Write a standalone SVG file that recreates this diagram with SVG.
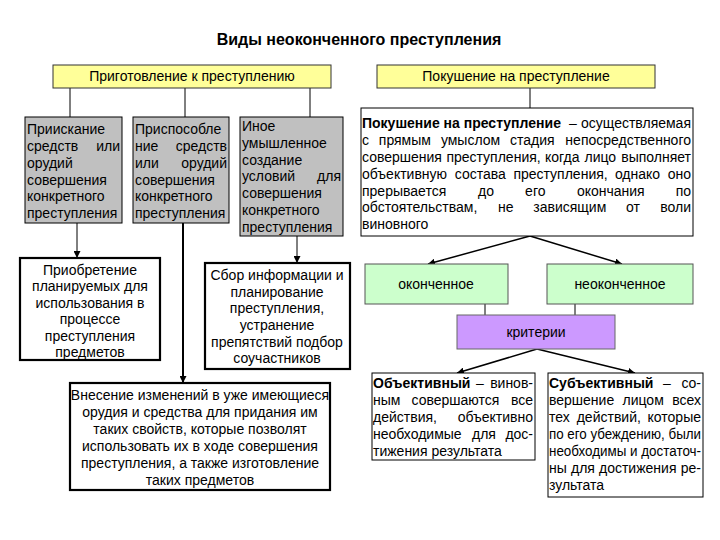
<svg xmlns="http://www.w3.org/2000/svg" width="720" height="540" viewBox="0 0 720 540">
<style>
text{font-family:"Liberation Sans",Arial,sans-serif;font-size:14px;fill:#000}
.t{font-size:16px;font-weight:bold}
.b{font-weight:bold}
.c{text-anchor:middle}
.e{text-anchor:end}
.thin{stroke:#000;stroke-width:1;fill:none}
.arr{stroke:#000;stroke-width:1.5;fill:none}
.ybox{fill:#ffff99;stroke:#333;stroke-width:1}
.gbox{fill:#c0c0c0;stroke:#000;stroke-width:1}
.wbox{fill:#fff;stroke:#000;stroke-width:1}
.tbox{fill:#fff;stroke:#000;stroke-width:2.2}
.grn{fill:#ccffcc;stroke:#555;stroke-width:1}
.prp{fill:#cc99ff;stroke:#666;stroke-width:1}
</style>
<defs>
<marker id="ah" viewBox="0 0 10 10" refX="10" refY="5" markerWidth="7" markerHeight="7" markerUnits="userSpaceOnUse" orient="auto">
<path d="M0,0 L10,5 L0,10 z" fill="#000"/>
</marker>
</defs>
<rect width="720" height="540" fill="#fff"/>
<text class="t c" x="359" y="45">Виды неоконченного преступления</text>

<g id="connectors">
<line class="thin" x1="70" y1="88" x2="70" y2="117"/>
<line class="thin" x1="185" y1="88" x2="185" y2="117"/>
<line class="thin" x1="310" y1="88" x2="310" y2="117"/>
<line class="thin" x1="530" y1="88" x2="530" y2="108"/>
<line class="thin" x1="77" y1="223" x2="77" y2="258" marker-end="url(#ah)"/>
<line x1="183" y1="223" x2="183" y2="383" stroke="#000" stroke-width="2" marker-end="url(#ah)"/>
<line class="thin" x1="297" y1="236" x2="297" y2="263" marker-end="url(#ah)"/>
<line class="arr" x1="530" y1="236" x2="428" y2="264" marker-end="url(#ah)"/>
<line class="arr" x1="530" y1="236" x2="622" y2="264" marker-end="url(#ah)"/>
<line class="thin" x1="485" y1="304" x2="485" y2="315"/>
<line class="thin" x1="575" y1="304" x2="575" y2="315"/>
<line class="arr" x1="537" y1="349" x2="457" y2="373" marker-end="url(#ah)"/>
<line class="arr" x1="537" y1="349" x2="635" y2="373" marker-end="url(#ah)"/>
</g>

<g id="prep">
<rect class="ybox" x="53" y="65" width="278" height="23"/>
<text class="c" x="192" y="81">Приготовление к преступлению</text>
</g>
<g id="attempt">
<rect class="ybox" x="377" y="65" width="278" height="23"/>
<text class="c" x="516" y="81">Покушение на преступление</text>
</g>

<g id="boxA">
<rect class="gbox" x="25" y="117" width="97" height="106"/>
<text x="27" y="134">Приискание</text>
<text x="27" y="151">средств</text><text class="e" x="120" y="151">или</text>
<text x="27" y="168">орудий</text>
<text x="27" y="185">совершения</text>
<text x="27" y="201">конкретного</text>
<text x="27" y="218">преступления</text>
</g>
<g id="boxB">
<rect class="gbox" x="133" y="117" width="96" height="106"/>
<text x="135" y="134">Приспособле</text>
<text x="135" y="151">ние</text><text class="e" x="227" y="151">средств</text>
<text x="135" y="168">или</text><text class="e" x="227" y="168">орудий</text>
<text x="135" y="185">совершения</text>
<text x="135" y="201">конкретного</text>
<text x="135" y="218">преступления</text>
</g>
<g id="boxC">
<rect class="gbox" x="240" y="117" width="103" height="119"/>
<text x="242" y="131">Иное</text>
<text x="242" y="148">умышленное</text>
<text x="242" y="165">создание</text>
<text x="242" y="181">условий</text><text class="e" x="341" y="181">для</text>
<text x="242" y="198">совершения</text>
<text x="242" y="215">конкретного</text>
<text x="242" y="232">преступления</text>
</g>

<g id="acquire">
<rect class="tbox" x="20" y="258" width="140" height="102"/>
<text class="c" x="90" y="275">Приобретение</text>
<text class="c" x="90" y="291">планируемых для</text>
<text class="c" x="90" y="308">использования в</text>
<text class="c" x="90" y="324">процессе</text>
<text class="c" x="90" y="341">преступления</text>
<text class="c" x="90" y="357">предметов</text>
</g>
<g id="collect">
<rect class="tbox" x="205" y="263" width="145" height="106"/>
<text class="c" x="277" y="280">Сбор информации и</text>
<text class="c" x="277" y="297">планирование</text>
<text class="c" x="277" y="313">преступления,</text>
<text class="c" x="277" y="330">устранение</text>
<text class="c" x="277" y="347">препятствий подбор</text>
<text class="c" x="277" y="363">соучастников</text>
</g>
<g id="modify">
<rect class="tbox" x="70" y="383" width="260" height="107"/>
<text class="c" x="200" y="400">Внесение изменений в уже имеющиеся</text>
<text class="c" x="200" y="417">орудия и средства для придания им</text>
<text class="c" x="200" y="434">таких свойств, которые позволят</text>
<text class="c" x="200" y="451">использовать их в ходе совершения</text>
<text class="c" x="200" y="468">преступления, а также изготовление</text>
<text class="c" x="200" y="485">таких предметов</text>
</g>

<g id="definition">
<rect class="wbox" x="361" y="108" width="332" height="128"/>
<text y="128"><tspan class="b" x="362">Покушение на преступление</tspan><tspan x="569">–</tspan></text><text class="e" x="691" y="128">осуществляемая</text>
<text y="145"><tspan x="362">с</tspan><tspan x="378.8">прямым</tspan><tspan x="440.9">умыслом</tspan><tspan x="510">стадия</tspan></text><text class="e" x="691" y="145">непосредственного</text>
<text y="162"><tspan x="362">совершения</tspan><tspan x="446.4">преступления,</tspan><tspan x="545">когда</tspan><tspan x="584.5">лицо</tspan></text><text class="e" x="691" y="162">выполняет</text>
<text y="179"><tspan x="362">объективную</tspan><tspan x="454.8">состава</tspan><tspan x="513.4">преступления,</tspan><tspan x="614.9">однако</tspan></text><text class="e" x="691" y="179">оно</text>
<text y="196"><tspan x="362">прерывается</tspan><tspan x="478.1">до</tspan><tspan x="525.1">его</tspan><tspan x="576.9">окончания</tspan></text><text class="e" x="691" y="196">по</text>
<text y="212"><tspan x="362">обстоятельствам,</tspan><tspan x="498.1">не</tspan><tspan x="533.3">зависящим</tspan><tspan x="626">от</tspan></text><text class="e" x="691" y="212">воли</text>
<text x="362" y="229">виновного</text>
</g>

<g id="finished">
<rect class="grn" x="365" y="264" width="143" height="40"/>
<text class="c" x="436" y="289">оконченное</text>
</g>
<g id="unfinished">
<rect class="grn" x="547" y="264" width="146" height="40"/>
<text class="c" x="620" y="289">неоконченное</text>
</g>
<g id="criteria">
<rect class="prp" x="457" y="315" width="158" height="34"/>
<text class="c" x="536" y="337">критерии</text>
</g>

<g id="objective">
<rect class="wbox" x="372" y="373" width="163" height="87"/>
<text y="388"><tspan class="b" x="373">Объективный</tspan><tspan x="476">–</tspan></text><text class="e" x="533" y="388">винов-</text>
<text y="405"><tspan x="373">ным</tspan><tspan x="411.5">совершаются</tspan></text><text class="e" x="533" y="405">все</text>
<text x="373" y="422">действия,</text><text class="e" x="533" y="422">объективно</text>
<text y="439"><tspan x="373">необходимые</tspan><tspan x="472">для</tspan></text><text class="e" x="533" y="439">дос-</text>
<text x="373" y="456">тижения результата</text>
</g>
<g id="subjective">
<rect class="wbox" x="548" y="373" width="155" height="124"/>
<text y="388"><tspan class="b" x="549">Субъективный</tspan><tspan x="663">–</tspan></text><text class="e" x="701" y="388">со-</text>
<text y="405"><tspan x="549">вершение</tspan><tspan x="622.5">лицом</tspan></text><text class="e" x="701" y="405">всех</text>
<text y="422"><tspan x="549">тех</tspan><tspan x="576.7">действий,</tspan></text><text class="e" x="701" y="422">которые</text>
<text x="549" y="439" textLength="152" lengthAdjust="spacingAndGlyphs">по его убеждению, были</text>
<text x="549" y="456" textLength="152" lengthAdjust="spacingAndGlyphs">необходимы и достаточ-</text>
<text y="473"><tspan x="549">ны</tspan><tspan x="571">для</tspan><tspan x="599">достижения</tspan></text><text class="e" x="701" y="473">ре-</text>
<text x="549" y="490">зультата</text>
</g>
</svg>
